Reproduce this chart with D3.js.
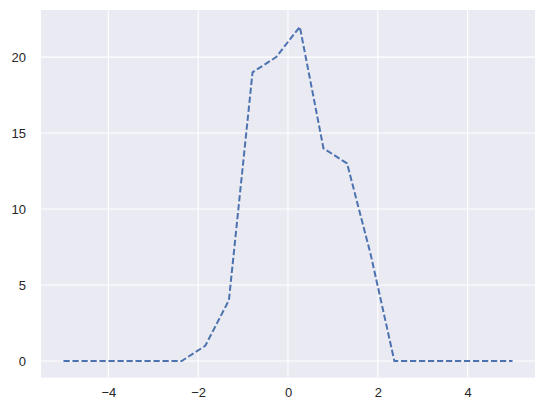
<!DOCTYPE html>
<html><head><meta charset="utf-8">
<script src="https://cdn.jsdelivr.net/npm/d3@7"></script>
<style>body{margin:0;background:#fff}svg{display:block}</style>
</head><body>
<svg id="c" width="546" height="416"></svg>
<script>
const xValues = [-5, -4.4737, -3.9474, -3.4211, -2.8947, -2.3684, -1.8421, -1.3158, -0.7895, -0.2632, 0.2632, 0.7895, 1.3158, 1.8421, 2.3684, 2.8947, 3.4211, 3.9474, 4.4737, 5];
const counts  = [0, 0, 0, 0, 0, 0, 1, 4, 19, 20, 22, 14, 13, 7, 0, 0, 0, 0, 0, 0];
const xTicks = [-4, -2, 0, 2, 4];
const yTicks = [0, 5, 10, 15, 20];

const svg = d3.select("#c");
const L = 41, R = 535, T = 10, B = 377.7;
const x = d3.scaleLinear().domain([-5.5, 5.5]).range([L, R]);
const y = d3.scaleLinear().domain([-1.1, 23.1]).range([B, T]);

svg.append("rect").attr("x", L).attr("y", T).attr("width", R - L).attr("height", B - T).attr("fill", "#eaeaf2");

const g = svg.append("g");
g.selectAll(".gx").data(xTicks).join("line")
  .attr("x1", d => x(d)).attr("x2", d => x(d)).attr("y1", T).attr("y2", B)
  .attr("stroke", "#fff").attr("stroke-width", 1.1);
g.selectAll(".gy").data(yTicks).join("line")
  .attr("y1", d => y(d)).attr("y2", d => y(d)).attr("x1", L).attr("x2", R)
  .attr("stroke", "#fff").attr("stroke-width", 1.1);

const fmt = d => (d < 0 ? "\u2212" + Math.abs(d) : String(d));
const xAxis = svg.append("g").attr("transform", `translate(0,${B})`)
  .call(d3.axisBottom(x).tickValues(xTicks).tickSize(0).tickPadding(10).tickFormat(fmt));
const yAxis = svg.append("g").attr("transform", `translate(${L},0)`)
  .call(d3.axisLeft(y).tickValues(yTicks).tickSize(0).tickPadding(15).tickFormat(fmt));
[xAxis, yAxis].forEach(a => {
  a.select(".domain").remove();
  a.selectAll("text").attr("fill", "#262626").style("font-family", "'Liberation Sans', Arial, sans-serif").style("font-size", "13px");
});

const line = d3.line().x((d, i) => x(xValues[i])).y(d => y(d));
svg.append("path").datum(counts).attr("d", line)
  .attr("fill", "none").attr("stroke", "#4c72b0").attr("stroke-width", 2)
  .attr("stroke-dasharray", "6.3,2.7");
</script>
</body></html>
